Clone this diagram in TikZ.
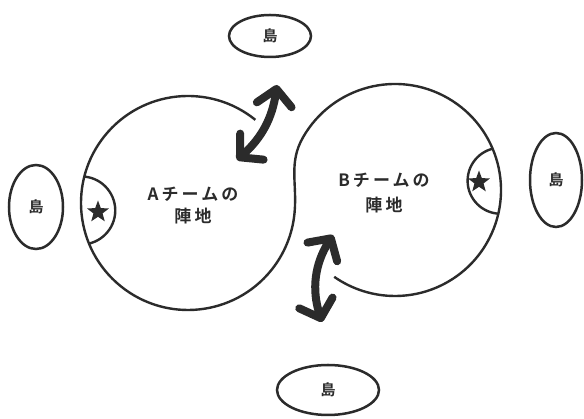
\documentclass[tikz,border=0pt]{standalone}
\usepackage{fontspec}
\newfontfamily\cjk[LetterSpace=18,BoldFont={Noto Sans CJK JP Bold}]{Noto Sans CJK JP}
\newfontfamily\cjkisl[BoldFont={Noto Sans CJK JP Bold}]{Noto Sans CJK JP}
\usetikzlibrary{arrows.meta,shapes.geometric,calc}
\definecolor{ink}{HTML}{2B2B2B}
\tikzset{
  outline/.style={draw=ink, line width=2.4pt},
  island/.style={ellipse, draw=ink, line width=2.5pt, inner sep=0pt, text=ink,
    font=\cjkisl\bfseries\fontsize{15}{15}\selectfont},
  teamtext/.style={text=ink, align=center, inner sep=0pt},
  starmark/.style={star, star points=5, star point ratio=2.4, fill=ink, draw=none,
    inner sep=0pt, minimum size=23pt},
  flowarrow/.style={draw=ink, line width=8pt,
    {Straight Barb[length=16pt,width=35pt,round]}-{Straight Barb[length=16pt,width=35pt,round]}}
}
\begin{document}
\begin{tikzpicture}[x=1pt,y=1pt]
\useasboundingbox[fill=white] (0,0) rectangle (584,419);
\coordinate (cA) at (188,216);
\coordinate (cB) at (395,229);
% territories as one S-shaped outline
\draw[outline] ($(cA)+(51:107)$) arc[start angle=51,end angle=355,radius=107pt]
  to[out=85,in=-120] ($(cB)+(150:106)$) arc[start angle=150,end angle=-125,radius=106pt];
% bases with stars
\begin{scope}
  \clip (cA) circle[radius=107pt];
  \draw[outline] ($(cA)+(184:107)$) circle[radius=34pt];
\end{scope}
\begin{scope}
  \clip (cB) circle[radius=106pt];
  \draw[outline] ($(cB)+(5:106)$) circle[radius=33pt];
\end{scope}
\node[starmark] (starA) at (98,207) {};
\node[starmark] (starB) at (479,237) {};
% team labels
\node[teamtext, font=\cjk\bfseries\fontsize{17}{22}\selectfont] (labA) at (193,213) {Aチームの\\陣地};
\node[teamtext, font=\cjk\bfseries\fontsize{17}{25}\selectfont] (labB) at (384,225.5) {Bチームの\\陣地};
% islands
\node[island, minimum width=82pt, minimum height=42pt] (north) at (270,383) {島};
\node[island, minimum width=102pt, minimum height=50pt] (south) at (328,29) {島};
\node[island, minimum width=54pt, minimum height=84pt] (west) at (36,212) {島};
\node[island, minimum width=52pt, minimum height=94pt] (east) at (556,239) {島};
% exchange arrows
\coordinate (t1) at (237,259);
\coordinate (t2) at (277,334);
\draw[flowarrow] (t1) to[bend right=20] (t2);
\coordinate (b1) at (322,97);
\coordinate (b2) at (333,184);
\draw[flowarrow] (b1) to[bend left=25] (b2);
\end{tikzpicture}
\end{document}
